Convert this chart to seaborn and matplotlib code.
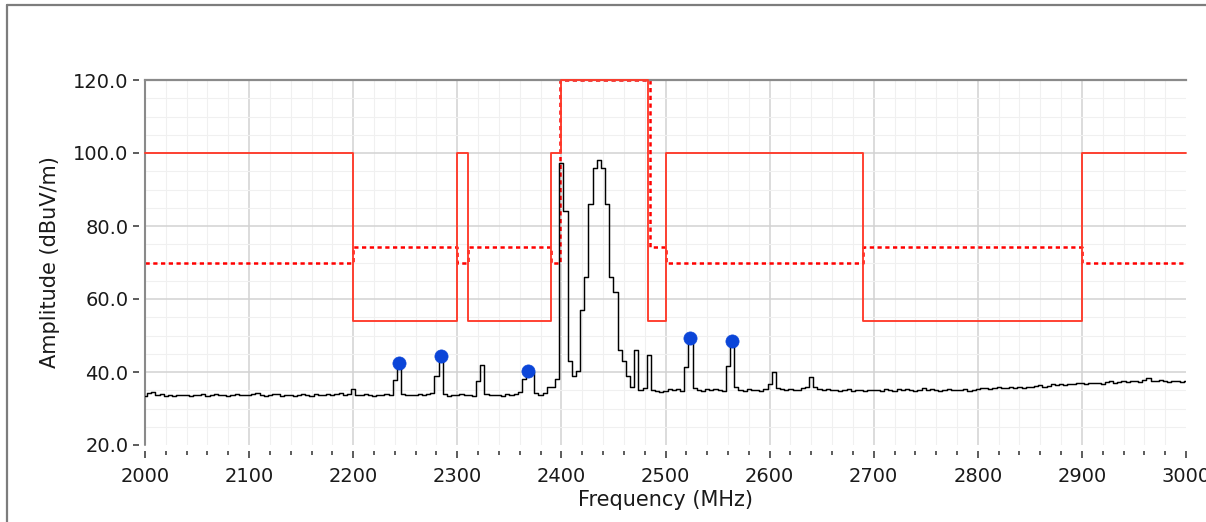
import numpy as np
import seaborn as sns
import matplotlib.pyplot as plt
from matplotlib.lines import Line2D
from matplotlib.ticker import MultipleLocator, FormatStrFormatter

sns.set_theme(style="white")
plt.rcParams['font.family'] = ['DejaVu Sans']

# measured trace, one value every 4 MHz from 2000 to 3000
freq = np.arange(2000, 3001, 4)
amp = [
    # 2000-2096
    33.5, 34.2, 34.6, 33.6, 33.9, 33.5, 33.7, 33.4, 33.8, 33.6, 33.7, 33.5, 33.8,
    33.6, 33.9, 33.5, 33.7, 34.0, 33.6, 33.8, 33.5, 33.7, 33.9, 33.6, 33.8,
    # 2100-2196
    33.7, 33.9, 34.3, 33.8, 33.5, 33.6, 33.9, 34.1, 33.4, 33.7, 33.8, 33.5, 33.6,
    33.9, 33.7, 33.5, 34.0, 33.6, 33.8, 34.1, 33.7, 33.9, 34.2, 33.6, 34.0,
    # 2200-2296
    35.4, 33.8, 33.6, 33.9, 33.7, 33.5, 33.8, 33.6, 33.9, 33.7, 37.8, 42.5, 33.9,
    33.6, 33.8, 33.7, 34.0, 33.6, 33.9, 34.2, 39.0, 44.3, 34.1, 33.5, 33.8,
    # 2300-2396
    33.7, 34.0, 33.6, 33.8, 33.5, 37.5, 41.8, 33.9, 33.6, 33.8, 33.7, 33.5, 33.9,
    33.6, 34.0, 34.5, 38.0, 40.4, 40.0, 34.3, 33.8, 34.2, 35.8, 36.0, 38.0,
    # 2400-2496
    97.3, 84.0, 43.0, 38.8, 40.2, 57.0, 66.0, 86.0, 96.0, 98.2, 96.0, 86.0, 66.0,
    62.0, 46.0, 43.0, 39.0, 36.0, 46.0, 35.0, 35.5, 44.6, 35.0, 34.9, 34.6,
    # 2500-2596
    34.9, 35.3, 35.0, 35.4, 34.8, 41.4, 49.3, 35.6, 35.1, 34.9, 35.4, 35.0, 35.3,
    35.1, 34.8, 41.6, 48.5, 36.0, 35.1, 34.9, 35.3, 35.0, 35.2, 34.8, 35.4,
    # 2600-2696
    36.8, 40.0, 35.6, 35.3, 35.0, 35.4, 35.2, 35.0, 35.5, 35.9, 38.6, 35.8, 35.4,
    35.1, 35.3, 35.0, 35.2, 34.9, 35.1, 35.3, 34.9, 35.0, 35.2, 34.9, 35.0,
    # 2700-2796
    35.0, 35.2, 34.9, 35.3, 35.1, 34.8, 35.3, 35.0, 35.4, 35.1, 34.9, 35.2, 35.5,
    35.0, 35.3, 35.1, 34.9, 35.2, 35.4, 35.0, 35.2, 35.1, 35.3, 34.9, 35.2,
    # 2800-2896
    35.3, 35.5, 35.7, 35.4, 35.6, 35.8, 35.5, 35.7, 35.9, 35.6, 35.8, 35.7, 36.0,
    35.8, 36.1, 36.4, 36.0, 36.3, 36.6, 36.4, 36.7, 36.5, 36.8, 36.6, 36.9,
    # 2900-3000
    37.0, 36.8, 37.1, 36.9, 37.0, 36.8, 37.2, 37.4, 37.1, 37.3, 37.5, 37.2, 37.4,
    37.6, 37.3, 37.8, 38.3, 37.6, 37.4, 37.7, 37.5, 37.3, 37.4, 37.6, 37.3, 37.4,
]

# peak markers
peak_freq = [2244, 2284, 2368, 2524, 2564]
peak_amp = [42.5, 44.3, 40.4, 49.3, 48.5]

# limit lines (band edges, level inside each band)
peak_edges = [2000, 2200, 2300, 2310, 2390, 2400, 2483.5, 2500, 2690, 2900, 3000]
peak_limit = [100, 54, 100, 54, 100, 120, 54, 100, 54, 100]
avg_edges = [2000, 2200, 2300, 2310, 2390, 2398.5, 2485, 2500, 2690, 2900, 3000]
avg_limit = [70, 74.3, 70, 74.3, 70, 120, 74.3, 70, 74.3, 70]

fig = plt.figure(figsize=(12.06, 5.22), dpi=100)
ax = fig.add_axes([145 / 1206, 1 - 445 / 522, 1041 / 1206, 365 / 522])

# grid
ax.xaxis.set_major_locator(MultipleLocator(100))
ax.xaxis.set_minor_locator(MultipleLocator(20))
ax.yaxis.set_major_locator(MultipleLocator(20))
ax.yaxis.set_minor_locator(MultipleLocator(5))
ax.grid(which="minor", color="#f0f0f0", lw=0.8)
ax.grid(which="major", color="#d2d2d2", lw=1.1)
ax.set_axisbelow(True)

sns.lineplot(x=avg_edges, y=avg_limit + avg_limit[-1:], drawstyle="steps-post",
             estimator=None, sort=False, color="#ff0000", lw=1.8,
             ax=ax, zorder=2.4)
ax.lines[-1].set_dashes((1.7, 1.4))
sns.lineplot(x=peak_edges, y=peak_limit + peak_limit[-1:], drawstyle="steps-post",
             estimator=None, sort=False, color="#ff3a2a", lw=1.35,
             ax=ax, zorder=4, clip_on=False)
sns.lineplot(x=freq, y=amp, drawstyle="steps-mid", estimator=None, sort=False,
             color="black", lw=1.05, ax=ax, zorder=5)
sns.scatterplot(x=peak_freq, y=peak_amp, color="#0b45d8", s=90, edgecolor="#0b45d8",
                linewidth=0.5, ax=ax, zorder=6)

ax.set_xlim(2000, 3000)
ax.set_ylim(20, 120)
ax.yaxis.set_major_formatter(FormatStrFormatter("%.1f"))

# spines: gray left + top, ticks detached from the frame
ax.spines["right"].set_visible(False)
ax.spines["top"].set_color("#8a8a8a")
ax.spines["top"].set_linewidth(1.6)
for side in ("left", "bottom"):
    ax.spines[side].set_position(("outward", 4.5))
    ax.spines[side].set_visible(False)
ax.plot([0, 0], [0, 1], transform=ax.transAxes, color="#8a8a8a", lw=1.5,
        clip_on=False, zorder=2.5)

ax.tick_params(axis="x", which="major", direction="out", length=5, width=1.1,
               color="#303030", labelsize=14, pad=6, labelcolor="#1a1a1a")
ax.tick_params(axis="x", which="minor", direction="out", length=3, width=1.1,
               color="#303030")
ax.tick_params(axis="y", which="major", direction="out", length=4.5, width=1.1,
               color="#303030", labelsize=14, pad=3, labelcolor="#1a1a1a")
ax.tick_params(axis="y", which="minor", length=0)
ax.tick_params(bottom=True, left=True, which="both")

ax.set_xlabel("Frequency (MHz)", fontsize=15, color="#1a1a1a", labelpad=3)
ax.set_ylabel("Amplitude (dBuV/m)", fontsize=15, color="#1a1a1a", labelpad=9)

# outer frame of the panel
fig.add_artist(Line2D([7 / 1206, 1], [1 - 5 / 522] * 2, transform=fig.transFigure,
                      color="#7d7d7d", lw=1.6))
fig.add_artist(Line2D([7 / 1206] * 2, [0, 1 - 5 / 522], transform=fig.transFigure,
                      color="#7d7d7d", lw=1.6))

fig.canvas.draw()
for t in ax.yaxis.get_major_ticks():
    if abs(t.get_loc() - 20) < 1e-6:
        t.gridline.set_visible(False)
for t in ax.xaxis.get_major_ticks():
    if abs(t.get_loc() - 3000) < 1e-6:
        t.gridline.set_visible(False)

fig.savefig("out.png", dpi=100)
